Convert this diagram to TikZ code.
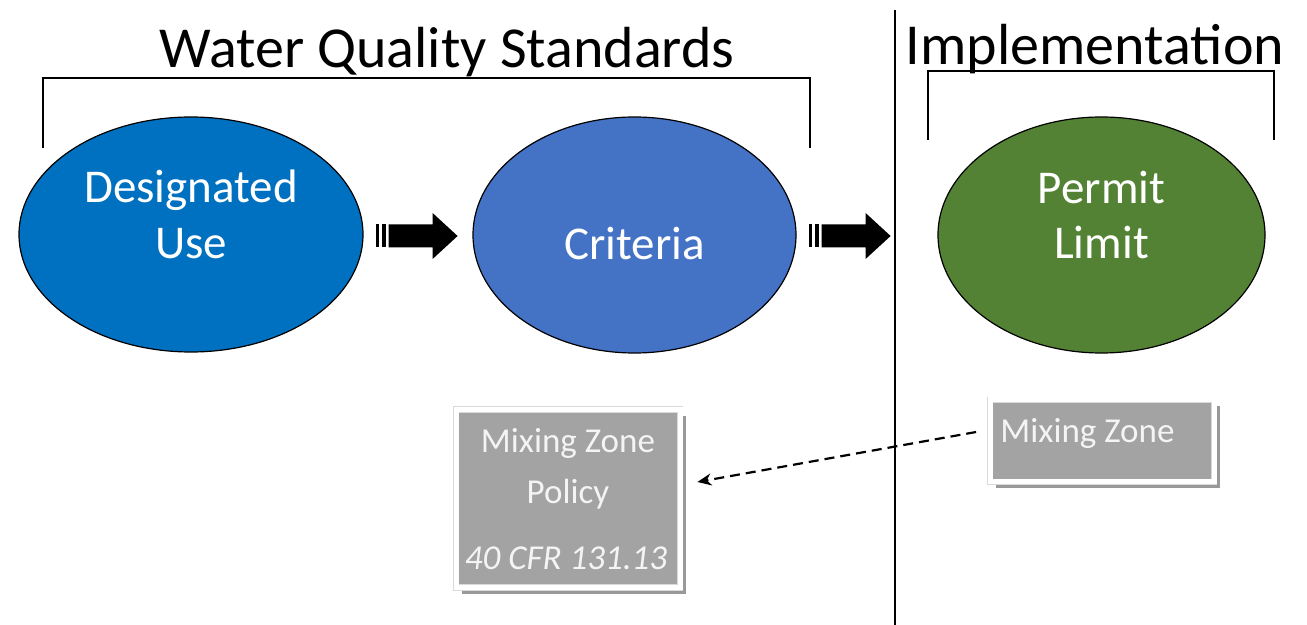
\documentclass[tikz,border=0pt]{standalone}
\usepackage{fontspec}
\setmainfont{Carlito}
\usetikzlibrary{shapes.geometric,shadows,arrows.meta}

\definecolor{usecol}{HTML}{0070C0}
\definecolor{critcol}{HTML}{4472C4}
\definecolor{permcol}{HTML}{548235}
\definecolor{boxgray}{HTML}{A3A3A3}
\definecolor{boxtextcol}{HTML}{F4F4F4}

\tikzset{
  blob/.style={ellipse, draw=black, line width=0.6pt, inner sep=0pt},
  blobtext/.style={text=white, font=\fontsize{23.5}{28}\selectfont, anchor=base, inner sep=0pt},
  heading/.style={font=\fontsize{29}{34}\selectfont, anchor=base, inner sep=0pt},
  bracket/.style={line width=1pt},
  graybox/.style={draw=black!15, double=white, double distance=2.5pt, line width=0.4pt,
    fill=boxgray, drop shadow={shadow xshift=3.2pt, shadow yshift=-3.2pt, fill=black!40, opacity=1}},
  boxtext/.style={text=boxtextcol, font=\fontsize{17.5}{25}\selectfont, anchor=base, inner sep=0pt},
  dasharrow/.style={line width=1.1pt, dash pattern=on 5pt off 3pt, -{Stealth[length=7pt,width=6pt]}},
  stripedarrow/.pic={
    \fill (0,-11.5) rectangle (3,11.5);
    \fill (6,-11.5) rectangle (10,11.5);
    \fill (13,-11.5) -- (57,-11.5) -- (57,-23) -- (82,0) -- (57,23) -- (57,11.5) -- (13,11.5) -- cycle;
  }
}

\begin{document}
\begin{tikzpicture}[x=0.5pt,y=-0.5pt]
  \useasboundingbox (0,0) rectangle (1307,625);
  %% headings and brackets
  \node[heading] (wqs) at (447,68) {Water Quality Standards};
  \node[heading] (impl) at (1095,65) {Implementation};
  \draw[bracket] (43,148) -- (43,78) -- (810,78) -- (810,148);
  \draw[bracket] (928,140) -- (928,71) -- (1274,71) -- (1274,140);
  \draw[line width=1pt] (895,10) -- (895,625);
  %% ellipses
  \node[blob, fill=usecol, minimum width=172pt, minimum height=117.5pt] (du) at (191,234.5) {};
  \node[blobtext] (dutop) at (191,203) {Designated};
  \node[blobtext] (dubot) at (191,259) {Use};
  \node[blob, fill=critcol, minimum width=161.5pt, minimum height=118pt] (crit) at (634.5,235) {};
  \node[blobtext] (crittext) at (634.5,260) {Criteria};
  \node[blob, fill=permcol, minimum width=163.5pt, minimum height=118pt] (perm) at (1101.5,235) {};
  \node[blobtext] (permtop) at (1101.5,204) {Permit};
  \node[blobtext] (permbot) at (1101.5,259) {Limit};
  %% block arrows
  \path (du.east) ++(12,1.5) pic {stripedarrow};
  \path (crit.east) ++(12,1) pic {stripedarrow};
  %% mixing zone boxes
  \node[graybox, minimum width=112pt, minimum height=89pt] (policy) at (568,498.5) {};
  \node[boxtext] (policyone) at (568,453) {Mixing Zone};
  \node[boxtext] (policytwo) at (568,503) {Policy};
  \node[boxtext, font=\fontsize{17.5}{25}\selectfont\itshape] (cfr) at (566,569) {40 CFR 131.13};
  \node[graybox, minimum width=112pt, minimum height=41pt] (mz) at (1102,441) {};
  \node[boxtext, anchor=base west] (mztext) at (1000,443) {Mixing Zone};
  \draw[dasharrow] ([xshift=-6.75pt,yshift=4.5pt]mz.west) -- ([xshift=8.5pt,yshift=8.25pt]policy.east);
\end{tikzpicture}
\end{document}
